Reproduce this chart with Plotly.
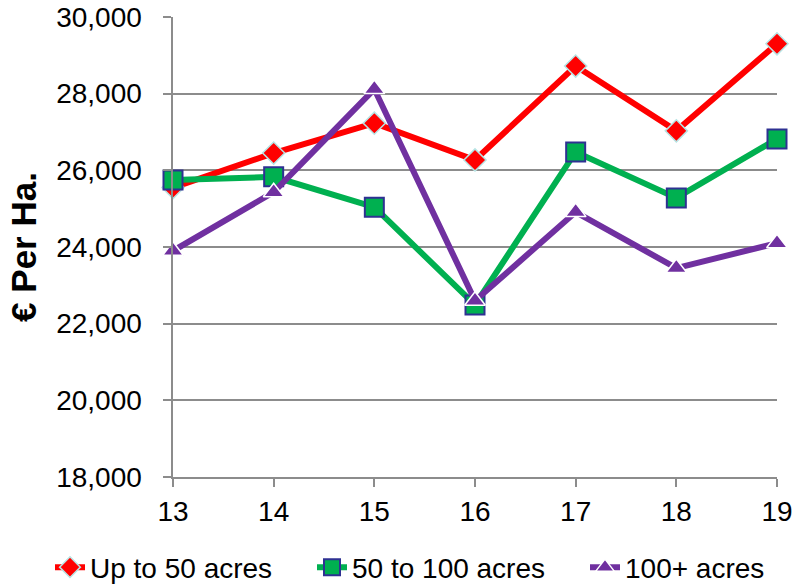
import plotly.graph_objects as go

years = [13, 14, 15, 16, 17, 18, 19]
up_to_50 = [25550, 26450, 27230, 26270, 28720, 27030, 29300]
from_50_to_100 = [25750, 25830, 25040, 22490, 26480, 25280, 26820]
over_100 = [23900, 25430, 28120, 22600, 24910, 23450, 24100]

series = [
    ("Up to 50 acres", up_to_50, "#ff0000", "diamond", 17, "#b7e4e4", 1.5, "legend"),
    ("50 to 100 acres", from_50_to_100, "#00b050", "square", 19, "#2e3192", 2, "legend2"),
    ("100+ acres", over_100, "#7030a0", "triangle-up", 18, "#ffffff", 1.5, "legend3"),
]

fig = go.Figure()
for name, vals, col, sym, size, edge, ew, leg in series:
    fig.add_trace(go.Scatter(
        x=years, y=vals, name=name, mode="lines+markers",
        line=dict(color=col, width=6),
        marker=dict(symbol=sym, size=size, color=col, line=dict(color=edge, width=ew)),
        cliponaxis=False, legend=leg,
    ))

def legend_box(xpos):
    return dict(orientation="h", xref="container", yref="container",
                x=xpos, xanchor="left", y=0.03, yanchor="middle",
                font=dict(size=28), bgcolor="rgba(0,0,0,0)")

fig.update_layout(
    width=796, height=585,
    margin=dict(l=173, r=19, t=17, b=108, autoexpand=False),
    paper_bgcolor="white", plot_bgcolor="white",
    font=dict(family="Liberation Sans, Arial, sans-serif", size=28, color="black"),
    showlegend=True,
    legend=legend_box(50 / 796),
    legend2=legend_box(312 / 796),
    legend3=legend_box(585 / 796),
)
fig.update_xaxes(
    range=[13, 19], tickvals=years, showgrid=False, zeroline=False,
    showline=True, linecolor="#8c8c8c", linewidth=2,
    ticks="outside", ticklen=8, tickcolor="#8c8c8c", tickwidth=1.5,
    tickfont=dict(size=28),
)
fig.update_yaxes(
    range=[18000, 30000], dtick=2000, tickformat=",",
    showgrid=True, gridcolor="#8c8c8c", gridwidth=1.5, zeroline=False,
    showline=True, linecolor="#8c8c8c", linewidth=2,
    ticks="outside", ticklen=8, tickcolor="#8c8c8c", tickwidth=1.5,
    tickfont=dict(size=28), ticksuffix="  ",
    title=dict(text="<b>€ Per Ha.</b>", font=dict(size=35), standoff=9),
)

fig.write_html("out.html")
